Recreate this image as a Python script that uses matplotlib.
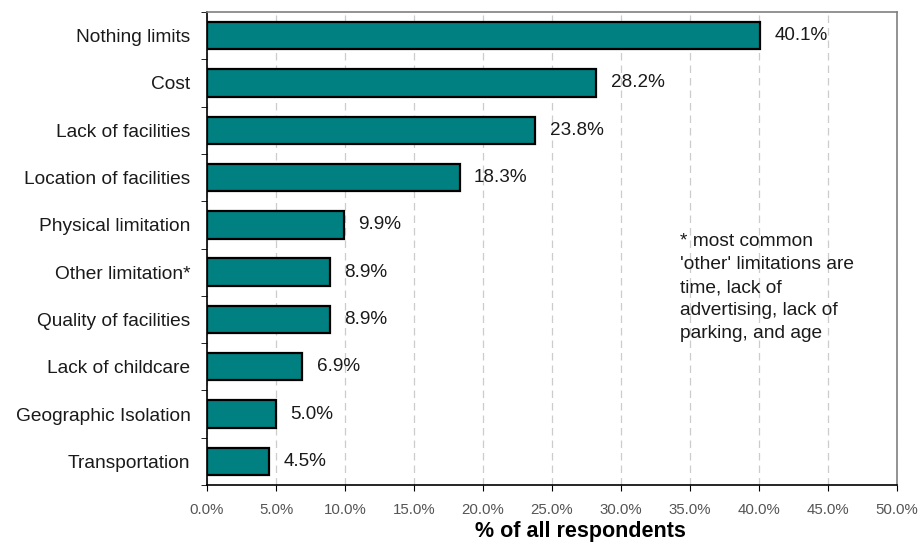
import matplotlib.pyplot as plt
import numpy as np

plt.rcParams['font.family'] = ['Liberation Sans', 'DejaVu Sans']

categories = ['Nothing limits', 'Cost', 'Lack of facilities', 'Location of facilities',
              'Physical limitation', 'Other limitation*', 'Quality of facilities',
              'Lack of childcare', 'Geographic Isolation', 'Transportation']
values = [40.1, 28.2, 23.8, 18.3, 9.9, 8.9, 8.9, 6.9, 5.0, 4.5]
xticks = np.arange(0, 50.1, 5)

fig = plt.figure(figsize=(9.19, 5.43), dpi=100)
ax = fig.add_axes([0.2253, 0.1068, 0.7508, 0.8711])

y = np.arange(len(categories))[::-1]
ax.barh(y, values, height=0.58, color='#008080', edgecolor='black', linewidth=1.6, zorder=3)

for yi, v in zip(y, values):
    ax.text(v + 1.05, yi, f'{v:.1f}%', va='center', ha='left', fontsize=13.6, color='#1a1a1a')

ax.set_xlim(0, 50)
ax.set_ylim(-0.5, len(categories) - 0.5)
ax.set_xticks(xticks)
ax.set_xticklabels([f'{t:.1f}%' for t in xticks], fontsize=10.8, color='#555555')
ax.set_yticks(y)
ax.set_yticklabels(categories, fontsize=13.8, color='#1a1a1a')
ax.set_yticks(np.arange(len(categories) + 1) - 0.5, minor=True)
ax.tick_params(axis='y', which='major', length=0, pad=12)
ax.tick_params(axis='y', which='minor', length=4, direction='out')
ax.tick_params(axis='x', length=4, direction='out', pad=9)

ax.grid(axis='x', linestyle=(0, (6, 4)), color='#cccccc', linewidth=0.9, zorder=0)
ax.set_axisbelow(True)

for side in ['top', 'right']:
    ax.spines[side].set_color('#808080')
for side in ['left', 'bottom']:
    ax.spines[side].set_color('black')
for s in ax.spines.values():
    s.set_linewidth(1.2)

ax.set_xlabel('% of all respondents', fontsize=15.5, fontweight='bold')
ax.xaxis.set_label_coords(0.5406, -0.077)

ax.text(0.685, 0.532, "* most common\n'other' limitations are\ntime, lack of\nadvertising, lack of\nparking, and age",
        transform=ax.transAxes, fontsize=13.8, va='top', ha='left', linespacing=1.45, color='#1a1a1a')

fig.savefig('out.png', dpi=100)
